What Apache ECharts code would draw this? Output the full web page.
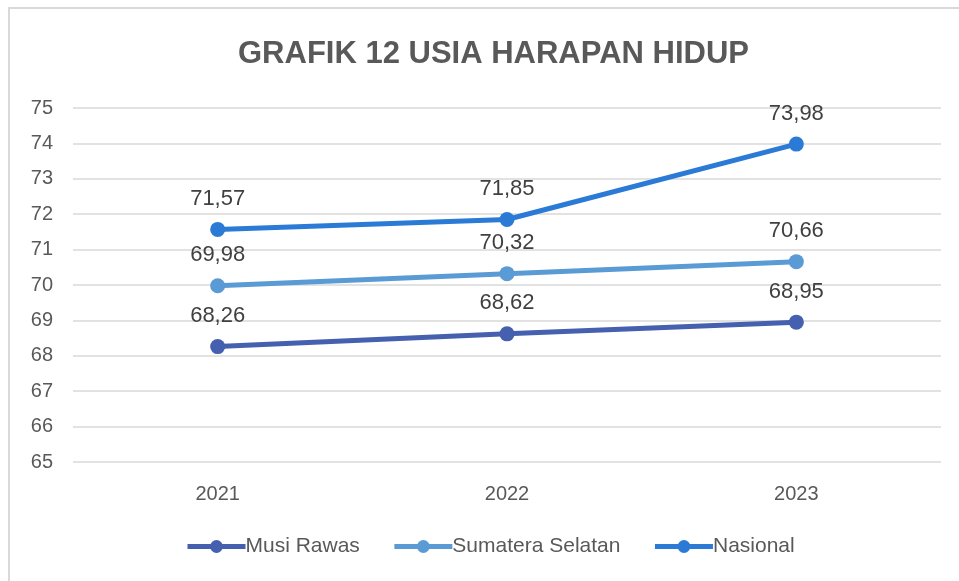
<!DOCTYPE html>
<html>
<head>
<meta charset="utf-8">
<script src="https://cdn.jsdelivr.net/npm/echarts@6/dist/echarts.min.js"></script>
<style>
  html, body { margin: 0; padding: 0; background: #fff; }
  #frame { position: absolute; left: 8px; top: 7px; width: 951px; height: 574px;
           border-top: 2px solid #d9d9d9; border-left: 2px solid #d9d9d9; box-sizing: border-box; }
  #chart { position: absolute; left: 0; top: 0; width: 959px; height: 581px; }
</style>
</head>
<body>
<div id="frame"></div>
<div id="chart"></div>
<script>
const font = "'Liberation Sans', sans-serif"

const years = ['2021', '2022', '2023']
const musiRawas = [68.26, 68.62, 68.95]
const sumsel = [69.98, 70.32, 70.66]
const nasional = [71.57, 71.85, 73.98]

const seriesDefs = [
  { name: 'Musi Rawas', data: musiRawas, color: '#4460ae' },
  { name: 'Sumatera Selatan', data: sumsel, color: '#5b9bd5' },
  { name: 'Nasional', data: nasional, color: '#2b7bd6' },
]

const chart = echarts.init(document.getElementById('chart'))

chart.setOption({
  animation: false,
  title: {
    text: 'GRAFIK 12 USIA HARAPAN HIDUP',
    left: 233,
    top: 34,
    textStyle: { fontFamily: font, fontSize: 31, fontWeight: 'bold', color: '#595959' },
  },
  grid: { left: 73, right: 18, top: 108, bottom: 119 },
  legend: {
    bottom: 24,
    left: 185,
    padding: 0,
    itemWidth: 58,
    itemHeight: 16,
    itemGap: 32,
    lineStyle: { width: 5 },
    textStyle: { fontFamily: font, fontSize: 21, color: '#595959', padding: [0, 0, 0, -5] },
    data: seriesDefs.map(s => s.name),
  },
  xAxis: {
    type: 'category',
    data: years,
    axisLine: { show: false },
    axisTick: { show: false },
    axisLabel: { fontFamily: font, fontSize: 20, color: '#595959', margin: 22 },
  },
  yAxis: {
    type: 'value',
    min: 65,
    max: 75,
    interval: 1,
    axisLine: { show: false },
    axisTick: { show: false },
    axisLabel: { fontFamily: font, fontSize: 20, color: '#595959', margin: 20 },
    splitLine: { lineStyle: { color: '#d9d9d9', width: 1.5 } },
  },
  series: seriesDefs.map(s => ({
    name: s.name,
    type: 'line',
    data: s.data,
    symbol: 'circle',
    symbolSize: 15,
    color: s.color,
    lineStyle: { width: 5, color: s.color },
    itemStyle: { color: s.color },
    label: {
      show: true,
      position: 'top',
      distance: 12,
      fontFamily: font,
      fontSize: 22,
      color: '#404040',
      formatter: p => p.value.toFixed(2).replace('.', ','),
    },
  })),
})
</script>
</body>
</html>
